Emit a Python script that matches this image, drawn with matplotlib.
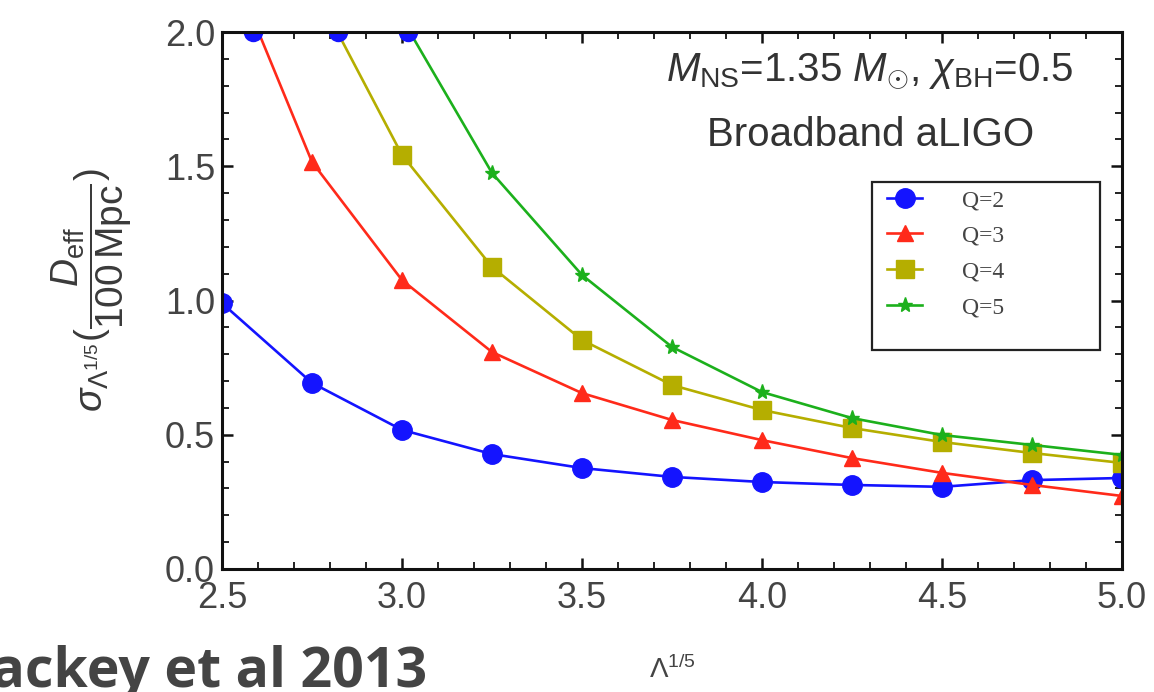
import matplotlib
matplotlib.use("Agg")
import matplotlib.pyplot as plt
from matplotlib.ticker import MultipleLocator, FormatStrFormatter
from matplotlib.patches import Rectangle

plt.rcParams['font.family'] = ['Liberation Sans', 'DejaVu Sans']
plt.rcParams['mathtext.fontset'] = 'custom'
plt.rcParams['mathtext.rm'] = 'Liberation Sans'
plt.rcParams['mathtext.it'] = 'Liberation Sans:italic'
plt.rcParams['mathtext.bf'] = 'Liberation Sans:bold'

# ---- data ----
lam = [2.5, 2.75, 3.0, 3.25, 3.5, 3.75, 4.0, 4.25, 4.5, 4.75, 5.0]
q2 = [0.99, 0.693, 0.518, 0.428, 0.376, 0.343, 0.324, 0.313, 0.306, 0.331, 0.339]
q3 = [2.33, 1.516, 1.076, 0.808, 0.655, 0.555, 0.480, 0.413, 0.358, 0.313, 0.272]
q4_x = [2.75, 3.0, 3.25, 3.5, 3.75, 4.0, 4.25, 4.5, 4.75, 5.0]
q4 = [2.18, 1.542, 1.125, 0.853, 0.685, 0.592, 0.525, 0.473, 0.432, 0.395]
q5_x = [3.0, 3.25, 3.5, 3.75, 4.0, 4.25, 4.5, 4.75, 5.0]
q5 = [2.05, 1.475, 1.095, 0.827, 0.659, 0.562, 0.499, 0.462, 0.425]
# points where curves leave the frame (blue markers on the top edge)
edge_x = [2.586, 2.822, 3.017]
edge_y = [2.0, 2.0, 2.0]
labels = ['Q=2', 'Q=3', 'Q=4', 'Q=5']
colors = ['#1414ff', '#ff2a1a', '#b5ae00', '#1cb01c']
xticks = [2.5, 3.0, 3.5, 4.0, 4.5, 5.0]
yticks = [0.0, 0.5, 1.0, 1.5, 2.0]

fig = plt.figure(figsize=(11.54, 6.92), dpi=100)
ax = fig.add_axes([222 / 1154, 1 - 569 / 692, 900 / 1154, 537 / 692])

l2, = ax.plot(lam, q2, '-o', color=colors[0], lw=1.9, ms=14, label=labels[0])
l3, = ax.plot(lam, q3, '-^', color=colors[1], lw=1.9, ms=12, label=labels[1])
l4, = ax.plot(q4_x, q4, '-s', color=colors[2], lw=1.9, ms=13, label=labels[2])
l5, = ax.plot(q5_x, q5, '-*', color=colors[3], lw=1.9, ms=11, label=labels[3])
ax.plot(edge_x, edge_y, ls='none', marker='o', ms=14, color=colors[0],
        fillstyle='bottom', markerfacecoloralt='none', mew=0)

ax.set_xlim(2.5, 5.0)
ax.set_ylim(0.0, 2.0)
ax.set_xticks(xticks)
ax.set_yticks(yticks)
ax.xaxis.set_minor_locator(MultipleLocator(0.1))
ax.yaxis.set_minor_locator(MultipleLocator(0.1))
ax.xaxis.set_major_formatter(FormatStrFormatter('%.1f'))
ax.yaxis.set_major_formatter(FormatStrFormatter('%.1f'))
ax.tick_params(which='both', direction='in', top=True, right=True,
               colors='#111111', labelcolor='#444444', labelsize=26)
ax.tick_params(which='major', length=8, width=1.8)
ax.tick_params(which='minor', length=5, width=1.3)
ax.tick_params(axis='x', pad=9)
ax.tick_params(axis='y', pad=5)
for s in ax.spines.values():
    s.set_linewidth(2.2)
    s.set_color('#111111')

ax.set_xlabel(r'$\Lambda^{1/5}$', fontsize=20, color='#444444')
ax.xaxis.set_label_coords(0.5, (569 - 655) / 537)
ax.set_ylabel(r'$\sigma_{\Lambda^{1/5}}(\dfrac{D_{\rm eff}}{100\,{\rm Mpc}})$',
              fontsize=28, color='#3a3a3a')
ax.yaxis.set_label_coords((134 - 222) / 900, (569 - 290) / 537)

ax.text(0.72, (569 - 71) / 537, r'$M_{\rm NS}$=1.35 $M_{\odot}$, $\chi_{\rm BH}$=0.5',
        transform=ax.transAxes, ha='center', va='center', fontsize=29, color='#333333')
ax.text(0.721, (569 - 135) / 537, 'Broadband aLIGO', transform=ax.transAxes,
        ha='center', va='center', fontsize=29, color='#333333')

# legend frame
ax.add_patch(Rectangle((0.722, 0.408), 0.9756 - 0.722, 0.7207 - 0.408,
                       transform=ax.transAxes, fill=True, facecolor='white',
                       edgecolor='#222222', lw=1.6, zorder=4))
leg = ax.legend(handles=[l2, l3, l4, l5], loc='upper left',
                bbox_to_anchor=(0.739, 0.7067),
                prop={'family': 'Liberation Serif', 'size': 17},
                handlelength=1.48, handletextpad=1.7, labelspacing=0.6,
                borderpad=0, borderaxespad=0, frameon=False, markerscale=1.0)
leg.set_zorder(5)
for t in leg.get_texts():
    t.set_color('#444444')

fig.text(-0.035, 0.007, 'Lackey et al 2013', fontsize=40, fontweight='bold',
         color='#444444', family='Open Sans', ha='left', va='baseline')

fig.savefig('out.png', dpi=100, facecolor='white')
